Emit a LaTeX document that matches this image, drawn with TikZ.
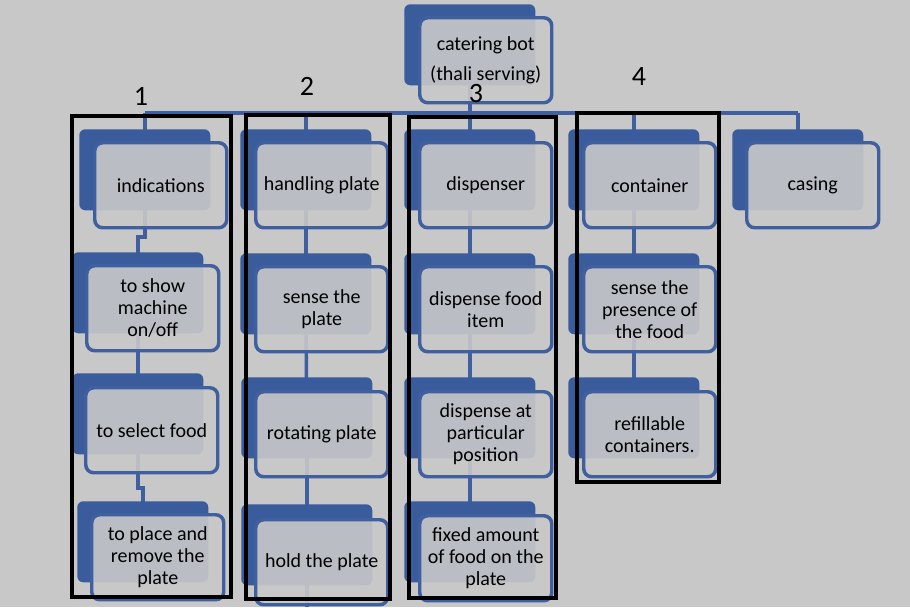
\documentclass[tikz,border=0pt]{standalone}
\usepackage{fontspec}
\setmainfont{Carlito}
\usepackage{xcolor}
\usepackage{tikz}
\usetikzlibrary{positioning}
\definecolor{pagegray}{HTML}{C8C8C8}
\definecolor{boxblue}{HTML}{3A5C9C}
\definecolor{lineblue}{HTML}{3F5F9E}
\pgfdeclarelayer{background}
\pgfsetlayers{background,main}

\begin{document}
\begin{tikzpicture}[x=0.75pt,y=-0.75pt,
  backbox/.style={fill=boxblue, rounded corners=4.5pt, minimum width=98.25pt, minimum height=60.75pt, anchor=north west, inner sep=0pt},
  frontbox/.style={draw=lineblue, line width=2.6pt, fill=pagegray, fill opacity=0.9, text opacity=1, rounded corners=6pt, minimum width=99pt, minimum height=63.75pt, anchor=north west, align=center, inner sep=2pt, text=black, font=\fontsize{15}{16.5}\selectfont},
  link/.style={draw=lineblue, line width=2.6pt},
  group/.style={draw=black, line width=3.6pt},
  num/.style={font=\fontsize{21}{24}\selectfont}]
\useasboundingbox (0,0) rectangle (910,607);

% Top node
\node[backbox] (B0) at (404,4) {};
\node[frontbox, font=\fontsize{15}{22.5}\selectfont] (T0) at (418,16) {catering bot\\(thali serving)};

% Column 1
\node[backbox] (B11) at (79,129) {};
\node[frontbox] (T11) at (93,141) {indications};
\node[backbox] (B12) at (72,252) {};
\node[frontbox] (T12) at (85,264) {to show\\machine\\on/off};
\node[backbox] (B13) at (72,373) {};
\node[frontbox] (T13) at (84,386) {to select food};
\node[backbox] (B14) at (77,501) {};
\node[frontbox] (T14) at (90,513) {to place and\\remove the\\plate};

% Column 2
\node[backbox] (B21) at (240,129) {};
\node[frontbox] (T21) at (254,141) {handling plate};
\node[backbox] (B22) at (240,253) {};
\node[frontbox] (T22) at (254,265) {sense the\\plate};
\node[backbox] (B23) at (241,377) {};
\node[frontbox] (T23) at (254,390) {rotating plate};
\node[backbox] (B24) at (241,504) {};
\node[frontbox] (T24) at (254,518) {hold the plate};

% Column 3
\node[backbox] (B31) at (404,129) {};
\node[frontbox] (T31) at (418,141) {dispenser};
\node[backbox] (B32) at (404,253) {};
\node[frontbox] (T32) at (418,265) {dispense food\\item};
\node[backbox] (B33) at (404,377) {};
\node[frontbox] (T33) at (418,390) {dispense at\\particular\\position};
\node[backbox] (B34) at (404,501) {};
\node[frontbox] (T34) at (418,514) {fixed amount\\of food on the\\plate};

% Column 4
\node[backbox] (B41) at (568,129) {};
\node[frontbox] (T41) at (582,141) {container};
\node[backbox] (B42) at (568,253) {};
\node[frontbox] (T42) at (582,265) {sense the\\presence of\\the food};
\node[backbox] (B43) at (568,377) {};
\node[frontbox] (T43) at (582,390) {refillable\\containers.};

% Column 5
\node[backbox] (B51) at (732,129) {};
\node[frontbox] (T51) at (745,141) {casing};

% Connectors behind the boxes
\begin{pgfonlayer}{background}
\fill[pagegray] (0,0) rectangle (910,607);
\coordinate (bus) at (0,113);
\coordinate (j1) at (0,237);
\coordinate (j3) at (0,488);
\coordinate (end2) at (0,607);
\draw[link] (B0.center) -- (B0.center |- bus);
\draw[link] (B11.center |- bus) -- (B51.center |- bus);
\foreach \c in {B11,B21,B31,B41,B51}
  \draw[link] (\c.center) -- (\c.center |- bus);
\draw[link] (B11.center) -- (B11.center |- j1) -| (B12.center);
\draw[link] (B12.center) -- (B13.center);
\draw[link] (B13.center) -- (B13.center |- j3) -| (B14.center);
\draw[link] (B21.center) -- (B22.center);
\draw[link] (B22.center) -- (B23.center);
\draw[link] (B23.center) -- (B24.center);
\draw[link] (B24.center) -- (B24.center |- end2);
\draw[link] (B31.center) -- (B32.center);
\draw[link] (B32.center) -- (B33.center);
\draw[link] (B33.center) -- (B34.center);
\draw[link] (B41.center) -- (B42.center);
\draw[link] (B42.center) -- (B43.center);
\end{pgfonlayer}

% Groups and their numbers
\draw[group] (72,116) rectangle (231,597);
\draw[group] (246,115) rectangle (390,599);
\draw[group] (409,117) rectangle (556,598);
\draw[group] (577,113) rectangle (719,482);
\node[num] (N1) at (141,96) {1};
\node[num] (N2) at (307,86) {2};
\node[num] (N3) at (476,94) {3};
\node[num] (N4) at (639,77) {4};
\end{tikzpicture}
\end{document}
